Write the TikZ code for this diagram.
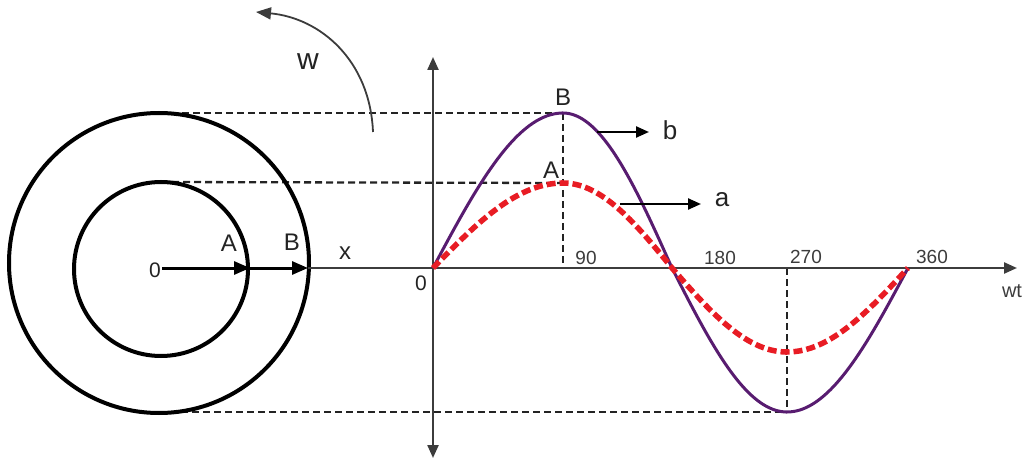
\documentclass[tikz,border=0pt]{standalone}
\usepackage{fontspec}
\setmainfont{Liberation Sans}
\usetikzlibrary{arrows.meta}
\definecolor{sinpurple}{RGB}{88,28,112}
\definecolor{sinred}{RGB}{232,28,36}
\definecolor{ink}{RGB}{35,35,35}
\definecolor{axisgray}{RGB}{60,60,60}
\tikzset{
  guide/.style={draw=ink, line width=2.3pt, dash pattern=on 7pt off 4pt},
  ring/.style={draw=black, line width=4pt},
  axisline/.style={draw=axisgray, line width=2.3pt, -{Triangle[length=13pt,width=11pt]}},
  phasor/.style={draw=black, line width=3pt, -{Triangle[length=16pt,width=13pt]}},
  lbl/.style={text=ink, inner sep=0pt, font=\fontsize{24}{28}\selectfont},
  num/.style={text=axisgray, inner sep=0pt, font=\fontsize{19}{22}\selectfont},
  tagarrow/.style={draw=black, line width=2.3pt, -{Triangle[length=13pt,width=11pt]}}
}
\begin{document}
\begin{tikzpicture}[x=1pt,y=-1pt]
\useasboundingbox (0,0) rectangle (1029,468);
% key points
\coordinate (C0) at (162,268);
\coordinate (CA) at (250,268);
\coordinate (CB) at (308,268);
\coordinate (Xend) at (1017,268);
\coordinate (Ytop) at (433,57);
\coordinate (Ybot) at (433,458);
\coordinate (Pb) at (563,113);
\coordinate (Pa) at (563,183);
\coordinate (P90) at (563,268);
\coordinate (Tb) at (787,412);
\coordinate (P270) at (787,268);
\coordinate (Ltop) at (160,113);
\coordinate (Lmid) at (161,182);
\coordinate (Lbot) at (159,412);
% guides
\draw[guide] (Ltop) -- (Pb);
\draw[guide] (Lmid) -- (Pa);
\draw[guide] (Lbot) -- (Tb);
\draw[guide] (Pb) -- (P90);
\draw[guide] (P270) -- (Tb);
% circles
\draw[ring] (159,263) circle[radius=150];
\draw[ring] (161,269) circle[radius=87];
% axes
\draw[axisline] (CB) -- (Xend);
\draw[axisline] (433,268) -- (Ytop);
\draw[axisline] (433,268) -- (Ybot);
% phasors
\draw[phasor] (C0) -- (CA);
\draw[phasor] (CA) -- (CB);
% rotation arrow
\coordinate (Wstart) at (373,132);
\coordinate (Wend) at (256,12);
\draw[draw=axisgray, line width=1.8pt, -{Triangle[length=15pt,width=12pt]}]
  (Wstart) .. controls (370,60) and (320,18) .. (Wend);
% sine B (purple)
\draw[draw=sinpurple, line width=3pt]
  plot[domain=0:90, samples=40, smooth] ({433+130*\x/90}, {268-155*sin(\x)})
  -- plot[domain=90:180, samples=40, smooth] ({563+109*(\x-90)/90}, {268-155*sin(\x)})
  -- plot[domain=180:270, samples=40, smooth] ({672+115*(\x-180)/90}, {268-144*sin(\x)})
  -- plot[domain=270:360, samples=40, smooth] ({787+121*(\x-270)/90}, {268-144*sin(\x)});
% sine A (red dashed)
\draw[draw=sinred, line width=5.5pt, dash pattern=on 9pt off 4pt]
  plot[domain=0:90, samples=40, smooth] ({433+130*\x/90}, {268-85*sin(\x)})
  -- plot[domain=90:180, samples=40, smooth] ({563+109*(\x-90)/90}, {268-85*sin(\x)})
  -- plot[domain=180:270, samples=40, smooth] ({672+115*(\x-180)/90}, {268-84*sin(\x)})
  -- plot[domain=270:360, samples=40, smooth] ({787+121*(\x-270)/90}, {268-84*sin(\x)});
% tag arrows
\coordinate (bs) at (597,132);
\coordinate (be) at (649,132);
\coordinate (as) at (620,204);
\coordinate (ae) at (701,204);
\draw[tagarrow] (bs) -- (be);
\draw[tagarrow] (as) -- (ae);
% labels
\node[lbl, font=\fontsize{30}{34}\selectfont] (w) at (308,62) {w};
\node[lbl, font=\fontsize{21}{24}\selectfont] (z1) at (155,270) {0};
\node[lbl] (lA) at (229,243) {A};
\node[lbl] (lB) at (292,242) {B};
\node[lbl] (lx) at (345,253) {x};
\node[lbl, font=\fontsize{21}{24}\selectfont] (z2) at (421,283) {0};
\node[lbl] (tB) at (563,97) {B};
\node[lbl, font=\fontsize{26}{30}\selectfont] (tb) at (670,130) {b};
\node[lbl] (tA) at (551,170) {A};
\node[lbl, font=\fontsize{26}{30}\selectfont] (ta) at (722,200) {a};
\node[num] (n90) at (586,258) {90};
\node[num] (n180) at (720,258) {180};
\node[num] (n270) at (806,257) {270};
\node[num] (n360) at (932,257) {360};
\node[num, font=\fontsize{20}{24}\selectfont] (wt) at (1012,291) {wt};
\end{tikzpicture}
\end{document}
